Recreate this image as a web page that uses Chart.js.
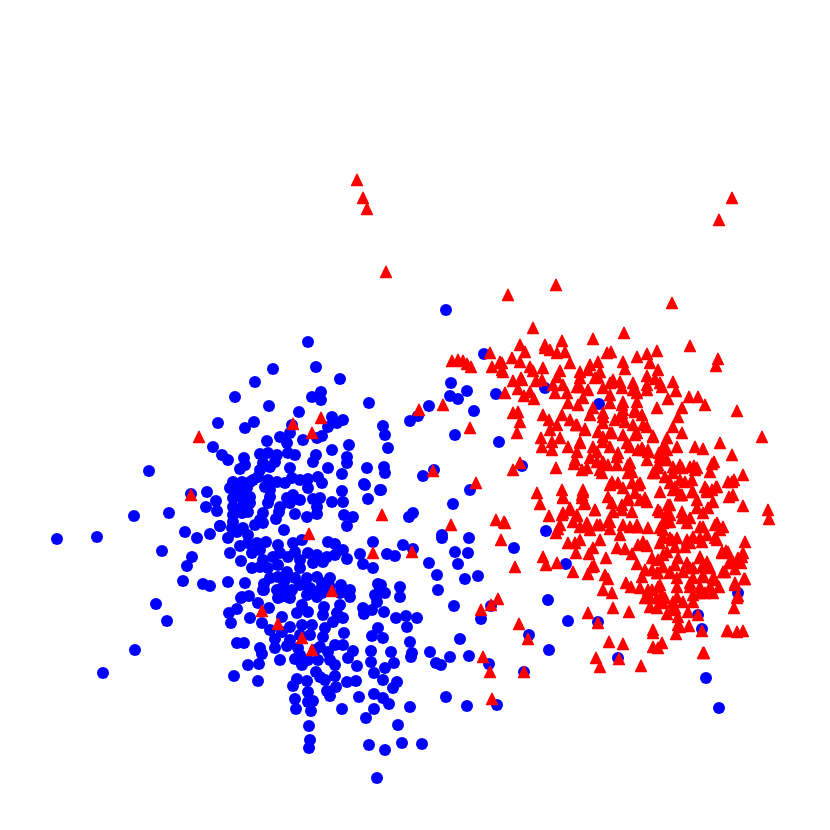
<!DOCTYPE html>
<html>
<head>
<meta charset="utf-8">
<title>scatter</title>
<script src="https://cdn.jsdelivr.net/npm/chart.js@4/dist/chart.umd.min.js"></script>
<style>
  html, body { margin: 0; padding: 0; background: #fff; }
  canvas { display: block; }
</style>
</head>
<body>
<canvas id="plot" width="830" height="830"></canvas>
<script>
// values, y axis runs downward 0..830
const blueCircles = [
  [57,539],[97,537],[134,516],[149,471],[169,513],[162,551],[185,532],[197,538],[192,557],[187,566],[183,581],[203,584],[210,586],[228,582],[156,604],[167,621],[135,650],[103,673],[210,534],[220,526],
  [269,406],[235,397],[299,412],[218,423],[254,422],[245,428],[332,417],[343,420],[337,423],[328,427],[292,425],[369,403],[321,400],[308,342],[316,367],[273,369],[255,382],[340,379],[321,392],[312,397],
  [290,433],[280,437],[287,443],[267,441],[303,440],[322,436],[317,438],[349,445],[332,450],[213,447],[222,455],[228,460],[260,454],[268,453],[277,455],[295,455],[288,453],[316,455],[313,462],[347,457],[347,463],[244,458],[245,465],[240,469],[328,468],[367,468],[342,474],[263,463],[275,462],[260,470],[270,467],[290,468],[258,477],[253,480],
  [233,482],[242,482],[250,482],[268,480],[277,482],[285,483],[292,478],[300,480],[308,479],[318,477],[322,483],[308,488],[230,488],[238,490],[247,488],[270,490],[265,487],[364,484],[380,490],[342,491],[207,492],[191,494],
  [233,498],[242,498],[250,497],[270,497],[293,495],[287,498],[300,500],[313,499],[320,498],[332,502],[343,502],[368,499],[216,501],[206,507],[217,511],[233,507],[243,505],[250,503],[268,503],[280,507],[290,503],[317,507],[279,512],[233,515],[242,513],[248,512],[263,513],[295,514],[307,517],[317,514],[344,515],[353,517],[347,526],[260,520],[276,519],[233,522],[232,528],[220,526],[243,528],[255,525],[263,523],[284,530],[237,532],[228,538],[248,535],
  [248,543],[240,546],[257,543],[266,542],[278,545],[293,543],[302,540],[328,542],[335,544],[343,550],[373,542],[360,554],[373,568],[363,564],[347,559],[230,553],[241,561],[252,553],[260,550],[263,560],[280,553],[273,557],[295,552],[308,553],[317,555],[327,557],[335,555],[313,563],[323,562],[300,560],[288,557],[252,568],[260,567],[278,565],[268,568],[287,572],[300,568],[317,577],[330,578],[307,578],[295,578],[278,577],[263,590],[277,590],[283,587],[292,590],[300,585],[310,588],[320,590],[330,587],[341,585],[350,590],[350,597],[377,595],[242,597],[245,583],[378,584],[280,597],[290,598],[307,595],[317,597],
  [264,584],[340,593],[400,587],[400,597],[375,595],[385,593],[264,590],[278,598],[288,597],[308,594],[322,593],
  [249,596],[241,598],[258,603],[269,608],[237,609],[229,613],[231,623],[250,618],[262,623],[302,605],[297,613],[308,612],[324,607],[340,605],[337,613],[343,618],[333,622],[323,615],[363,608],[377,602],[372,610],[364,614],[384,612],[396,618],[406,616],[417,618],[407,627],[282,617],[290,627],[325,628],[323,637],[344,633],[378,628],[372,636],[383,638],[410,642],[275,639],[237,643],[244,643],[260,648],[262,654],[275,648],[287,646],[298,648],[320,647],[310,635],[335,645],[343,645],[353,651],[391,652],[412,653],[411,657],[371,651],[371,662],[348,658],[280,660],[295,659],[302,665],[308,660],[318,660],[330,660],[335,665],[394,663],[385,668],[357,666],[248,665],[259,664],[234,676],[258,681],[316,672],[320,677],[325,680],[335,676],[374,673],[383,680],[297,679],[293,686],[307,681],[347,682],[356,681],[397,682],[393,688],[336,687],[327,691],[330,696],[308,692],[359,697],[374,694],[383,698],[389,704],[410,707],[295,699],[296,709],[313,701],[308,702],[311,711],[342,709],[374,709],[366,718],[398,725],[309,726],[310,740],[309,748],[369,745],[385,750],[402,743],[422,744],[377,778],
  [446,310],[484,354],[451,383],[467,391],[450,396],[458,399],[429,406],[418,416],[410,421],[474,411],[383,426],[385,435],[388,448],[455,435],[496,394],[499,442],[384,467],[385,473],[365,485],[381,490],[423,476],[434,470],[470,490],[453,504],[413,513],[409,517],[442,535],[442,538],[469,538],[455,552],[468,553],[514,548],[546,531],[522,466],[403,545],[413,549],[395,556],[387,554],[429,563],[458,564],[437,575],[465,579],[478,576],[438,590],[381,585],[380,591],[454,606],[481,619],[548,600],[568,621],[598,622],[529,635],[549,650],[460,639],[430,652],[450,657],[436,663],[441,665],[469,656],[489,664],[524,672],[618,658],[446,697],[467,706],[497,705],[698,615],[702,629],[738,593],[706,678],[719,708],[566,564],[599,404],[545,388],[491,606],
  // solid patches in the lower lobe
  [285,580],[270,578],[322,583],[302,625],[312,625],[300,635],[290,640],[315,650],[328,652],[270,630],[282,632],[300,655]
];

const redTriangles = [
  [357,180],[363,198],[367,209],[386,272],[732,198],[719,220],[508,295],[556,285],[672,303],
  [199,437],[293,424],[321,418],[312,433],[191,495],[419,410],[433,471],[476,483],[382,515],[451,525],[373,553],[412,552],[309,534],[332,591],[262,611],[278,624],[302,638],[312,650],[481,610],[491,605],[498,599],[483,657],[490,672],[492,699],[524,672],[519,624],[528,639],[496,520],[504,522],[501,540],[515,567],[443,405],[470,428],
  [533,328],[624,333],[593,339],[690,346],[562,341],[520,345],[545,345],[525,352],[550,350],[557,353],[565,352],[512,358],[520,362],[502,363],[502,370],
  [607,353],[611,352],[637,357],[647,354],[657,351],[570,363],[598,362],[590,365],[623,362],[625,369],[650,363],[658,370],[530,367],[533,371],[543,368],[560,371],[580,372],[588,370],[600,372],[647,376],[655,379],[673,382],[521,378],[542,380],[557,377],[580,378],[595,378],[613,380],[620,382],[633,383],[647,385],[662,387],[676,391],[518,389],[530,392],[524,396],[534,399],[505,393],[553,385],[563,385],[555,393],[567,393],[580,387],[588,390],[603,388],[610,395],[622,388],[637,393],[647,390],[668,399],[689,397],[698,397],
  [568,403],[578,405],[610,403],[623,402],[637,402],[657,408],[682,408],[513,413],[518,412],[520,422],[517,433],[543,415],[549,420],[562,415],[590,415],[603,413],[623,410],[620,417],[635,412],[678,417],[550,430],[557,425],[570,420],[576,425],[585,429],[603,423],[615,420],[625,422],[633,425],[643,425],[673,427],[682,433],[541,438],[560,438],[552,442],[542,447],[552,450],[568,447],[580,443],[577,452],[598,432],[610,433],[623,435],[637,433],[653,436],[667,438],[663,447],[677,447],[695,447],[603,442],[630,447],[642,448],[648,452],[597,452],[618,453],[597,462],[574,464],[582,470],[587,468],[600,470],[608,465],[617,465],[628,465],[520,463],[513,470],[556,468],[659,453],[667,460],[657,467],[673,467],[682,468],[690,467],[697,468],[653,473],[665,477],[680,480],[602,473],[628,473],[612,482],[618,483],[632,483],[640,483],[660,492],[673,490],[693,492],[682,495],[537,493],[562,490],[583,492],[563,498],[582,498],[540,504],[585,503],[608,497],[628,498],[640,500],[647,502],[622,505],[613,512],[632,512],[595,510],[670,505],[682,512],[697,500],[549,516],[570,508],[562,515],[577,515],[667,513],[682,518],[505,523],[560,525],[587,523],[600,525],[610,522],[623,525],[637,525],[663,523],[670,522],[573,522],
  [716,366],[718,359],[705,405],[737,411],[762,437],[720,443],[732,455],[743,475],[712,464],[710,472],[694,466],[734,480],[733,495],[743,506],[768,510],[769,519],[720,530],[745,542],[733,562],[741,563],[722,552],[745,579],[735,585],[738,596],[734,608],[728,631],[737,632],[743,631],[704,653],[726,551],[716,487],[712,490],[705,487],[692,480],
  [732,482],[583,490],[582,495],[584,504],[595,510],[563,497],[610,485],[623,488],[638,485],[675,487],[692,492],[707,490],[717,487],[680,495],[612,503],[628,500],[713,502],[708,508],[697,508],[660,512],[622,510],[670,515],[570,510],[577,516],[563,513],[587,525],[597,525],[608,522],[580,527],[610,529],[620,535],[630,527],[638,527],[648,528],[660,528],[667,522],[687,523],[703,527],[715,525],[723,527],[715,538],[702,542],[663,537],[677,538],[690,543],[660,543],[568,543],[575,543],[580,540],[600,540],[593,548],[576,553],[589,554],[606,558],[617,548],[625,549],[632,554],[638,545],[647,546],[743,553],[728,552],[742,557],[652,558],[658,560],[667,552],[675,547],[685,547],[700,557],[707,562],[729,563],[735,569],[723,572],[744,579],[594,566],[573,572],[588,574],[637,564],[605,575],[608,579],[652,570],[663,567],[675,565],[687,563],[693,568],[702,567],[710,568],[683,572],[670,573],[658,573],[642,577],[693,578],[703,577],[713,578],[677,578],[603,590],[612,593],[626,583],[631,587],[640,588],[652,590],[660,585],[677,587],[690,583],[700,587],[710,587],[719,587],[735,583],[645,598],[657,598],[662,595],[677,597],[693,595],[705,593],[713,593],[693,602],[650,607],[663,603],[675,608],[688,612],[698,615],[657,608],[613,608],[629,612],[588,613],[598,623],[667,614],[678,617],[678,625],[689,626],[702,631],[727,631],[676,634],[653,633],[609,642],[623,644],[662,643],[653,647],[658,648],[703,653],[596,658],[619,659],[600,667],[641,666],
  [452,361],[458,360],[463,361],[467,364],[471,367],[490,353],[492,367],[500,362],[503,372],[513,381],[522,380],[536,381],[545,348],[556,533],[558,529],[543,557],[546,565],[557,563],[592,567],[590,530],
  // second pass over the densest patches
  [622,405],[635,410],[593,408],[603,417],[577,425],[585,430],[612,433],[622,413],[642,415],[647,427],[635,435],[653,437],[603,437],[580,442],[593,447],[610,447],[627,443],[643,450],[660,457],[667,450],[575,460],[590,458],[603,462],[617,457],[630,463],[647,460],[658,465],[660,383],[598,377],[577,387],[583,398],[610,383],[633,390],
  [638,450],[648,450],[665,448],[703,449],[714,462],[632,472],[663,460],[658,468],[655,473],[680,465],[695,470],[673,473],[638,485],[635,493],[645,498],[670,483],[685,482],[680,495],[707,492],[703,513],[728,482],[729,497],[668,505],[658,510],[665,520],[690,518],[637,527],[663,530],[700,527],[717,523],[693,537],[707,535],[670,538],
  [643,542],[672,540],[687,540],[700,538],[717,540],[722,553],[663,555],[678,558],[700,558],[708,567],[725,572],[730,563],[738,558],[645,570],[657,573],[670,572],[690,568],[703,575],[715,580],[648,590],[658,587],[690,587],[700,593],[650,598],[665,598],[673,602],[683,602],[737,598],[672,610],[653,630],[680,627]
];

// marker for the red series: taller than the library's own triangle, corners a bit soft
function makeTriangleMarker() {
  const c = document.createElement('canvas');
  c.width = 16;
  c.height = 16;
  const g = c.getContext('2d');
  g.fillStyle = '#ff0000';
  g.strokeStyle = '#ff0000';
  g.lineWidth = 1.5;
  g.lineJoin = 'round';
  g.beginPath();
  g.moveTo(8, 2.4);
  g.lineTo(13.4, 13.6);
  g.lineTo(2.6, 13.6);
  g.closePath();
  g.fill();
  g.stroke();
  return c;
}

const circlePoints = blueCircles.map(p => ({ x: p[0], y: p[1] }));
const trianglePoints = redTriangles.map(p => ({ x: p[0], y: p[1] }));

new Chart(document.getElementById('plot'), {
  type: 'scatter',
  data: {
    datasets: [
      // first dataset is painted last, so red stays on top
      { label: 'red', data: trianglePoints, pointStyle: makeTriangleMarker(), pointRadius: 8, pointBackgroundColor: '#ff0000', pointBorderWidth: 0 },
      { label: 'blue', data: circlePoints, pointStyle: 'circle', pointRadius: 6, pointBackgroundColor: '#0000ff', pointBorderWidth: 0 }
    ]
  },
  options: {
    responsive: false,
    animation: false,
    layout: { padding: 0, autoPadding: false },
    plugins: { legend: { display: false }, tooltip: { enabled: false } },
    scales: {
      x: { type: 'linear', display: false, min: 0, max: 830 },
      y: { type: 'linear', display: false, min: 0, max: 830, reverse: true }
    }
  }
});
</script>
</body>
</html>
